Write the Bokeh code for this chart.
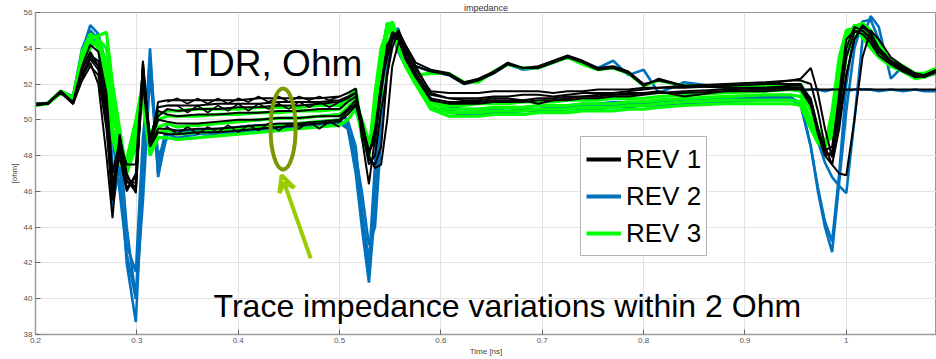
from bokeh.plotting import figure
from bokeh.models import Range1d, FixedTicker, Legend, LegendItem, Label, Arrow, VeeHead
from bokeh.embed import file_html
from bokeh.resources import INLINE

# ---------------- data ----------------
T = [0.200, 0.212, 0.225, 0.237, 0.246, 0.254, 0.262, 0.270, 0.276, 0.283, 0.290, 0.299, 0.306, 0.313, 0.321, 0.330,
     0.34, 0.36, 0.38, 0.40, 0.42, 0.44, 0.46, 0.48, 0.50,
     0.508, 0.516, 0.522, 0.529, 0.535, 0.541, 0.547, 0.552, 0.558, 0.565, 0.575, 0.590,
     0.608, 0.623, 0.637, 0.652, 0.666, 0.681, 0.696, 0.711, 0.725, 0.740, 0.755, 0.770, 0.785, 0.800, 0.815, 0.840, 0.880, 0.920,
     0.945, 0.955, 0.965, 0.972, 0.979, 0.986, 0.993, 1.000, 1.008, 1.016, 1.024, 1.032, 1.044, 1.056, 1.068, 1.077, 1.090]

# REV 2 (blue)
REV2_1 = [50.85, 50.95, 51.6, 51.3, 53.8, 55.3, 54.8, 51.5, 45.2, 47.5, 42.0, 38.7, 47.0, 54.0, 46.8, 49.5,
          49.3, 49.4, 49.5, 49.6, 49.7, 49.7, 49.8, 49.9, 50.0,
          49.6, 47.0, 44.0, 40.9, 45.0, 51.0, 55.3, 55.0, 55.1, 53.5, 52.3, 50.6,
          50.5, 50.4, 50.4, 50.5, 50.5, 50.6, 50.6, 50.7, 50.7, 50.8, 50.8, 50.8, 50.9, 50.9, 51.0, 51.0, 51.1, 51.2,
          51.2, 51.0, 48.5, 46.0, 44.0, 42.6, 46.5, 50.5, 54.0, 55.5, 55.6, 54.5, 53.3, 52.9, 52.4, 52.5, 52.8]
REV2_2 = [50.85, 50.9, 51.5, 51.2, 53.5, 55.0, 54.0, 50.5, 46.0, 48.8, 44.0, 40.0, 48.0, 53.5, 47.5, 49.8,
          49.6, 49.7, 49.8, 49.9, 50.0, 50.1, 50.1, 50.2, 50.3,
          50.0, 48.5, 45.0, 42.0, 47.5, 53.5, 55.4, 54.8, 54.5, 53.8, 53.0, 52.7,
          52.5, 52.0, 52.2, 52.6, 53.1, 52.8, 52.9, 53.2, 53.5, 53.2, 52.9, 53.3, 52.5, 52.8, 51.5, 52.1, 51.8, 51.8,
          51.7, 51.6, 51.7, 51.7, 51.6, 51.7, 51.7, 51.6, 51.7, 51.7, 51.7, 51.6, 51.7, 51.6, 51.7, 51.6, 51.6]
REV2_3 = [50.8, 50.9, 51.6, 51.3, 54.0, 55.0, 54.5, 52.5, 47.5, 46.5, 43.0, 41.5, 49.0, 53.0, 47.0, 49.2,
          49.0, 49.2, 49.3, 49.4, 49.5, 49.6, 49.7, 49.8, 49.8,
          49.5, 47.5, 44.5, 41.5, 46.0, 52.0, 55.0, 54.8, 53.8, 53.0, 52.2, 51.0,
          50.7, 50.6, 50.6, 50.6, 50.7, 50.7, 50.8, 50.8, 50.8, 50.9, 50.9, 51.0, 51.0, 51.0, 51.1, 51.1, 51.2, 51.3,
          51.3, 50.8, 48.5, 46.2, 44.3, 43.2, 47.0, 52.0, 55.0, 55.3, 55.0, 54.0, 53.2, 52.8, 52.4, 52.5, 52.8]
REV2_4 = [50.9, 50.9, 51.5, 51.1, 53.0, 54.5, 54.8, 53.0, 49.0, 46.0, 42.5, 40.0, 45.5, 52.5, 48.0, 49.0,
          48.9, 49.0, 49.2, 49.3, 49.4, 49.5, 49.6, 49.7, 49.8,
          49.8, 48.0, 46.0, 43.0, 44.0, 49.0, 53.0, 55.2, 54.8, 53.5, 52.5, 51.2,
          50.4, 50.3, 50.3, 50.4, 50.4, 50.5, 50.5, 50.5, 50.6, 50.6, 50.6, 50.7, 50.7, 50.8, 50.8, 50.9, 51.0, 51.1,
          51.1, 50.9, 50.0, 48.8, 47.6, 46.8, 46.3, 45.9, 50.0, 54.5, 55.8, 55.2, 52.3, 53.0, 52.6, 52.4, 52.6]

# REV 3 (green)
REV3_1 = [50.85, 50.9, 51.6, 51.2, 53.5, 54.5, 54.7, 54.9, 52.0, 49.5, 47.0, 48.5, 51.8, 48.6, 50.3, 50.5,
          50.5, 50.6, 50.6, 50.6, 50.7, 50.7, 50.7, 50.8, 50.8,
          51.2, 51.75, 49.5, 48.2, 51.5, 54.0, 55.0, 55.5, 54.5, 53.5, 52.5, 52.6,
          52.6, 52.1, 52.1, 52.7, 53.1, 52.9, 52.9, 53.2, 53.5, 53.1, 52.8, 52.9, 52.6, 51.9, 52.2, 51.9, 51.9, 51.9,
          51.9, 52.0, 51.0, 49.5, 48.8, 49.5, 52.0, 54.0, 55.2, 55.4, 55.0, 54.2, 53.4, 53.0, 52.6, 52.6, 52.9]
REV3_2 = [50.8, 50.9, 51.6, 51.2, 53.8, 54.8, 54.5, 53.0, 50.5, 48.5, 47.5, 49.5, 52.3, 48.8, 50.0, 50.2,
          50.2, 50.2, 50.3, 50.3, 50.4, 50.4, 50.5, 50.5, 50.6,
          51.0, 51.5, 49.0, 48.0, 50.5, 53.5, 55.3, 55.0, 54.0, 53.0, 52.0, 51.0,
          50.8, 50.8, 50.9, 50.9, 50.9, 51.0, 51.0, 51.0, 51.1, 51.1, 51.1, 51.2, 51.2, 51.2, 51.3, 51.4, 51.5, 51.6,
          51.7, 51.6, 50.5, 49.5, 48.7, 49.0, 51.0, 53.5, 55.0, 55.3, 54.8, 54.0, 53.3, 52.9, 52.5, 52.5, 52.8]
REV3_3 = [50.85, 50.9, 51.5, 51.2, 53.2, 54.3, 54.2, 52.5, 49.5, 48.0, 47.8, 50.0, 52.0, 49.0, 49.6, 49.8,
          49.6, 49.7, 49.8, 49.9, 50.0, 50.1, 50.1, 50.2, 50.3,
          50.7, 51.2, 49.5, 48.5, 49.5, 52.5, 54.8, 55.2, 54.3, 53.2, 52.3, 51.0,
          50.6, 50.6, 50.6, 50.7, 50.7, 50.7, 50.8, 50.8, 50.8, 50.9, 50.9, 50.9, 51.0, 51.0, 51.1, 51.2, 51.3, 51.4,
          51.4, 51.3, 50.0, 49.0, 48.5, 49.5, 52.5, 54.5, 55.3, 55.0, 54.5, 53.8, 53.2, 52.9, 52.5, 52.5, 52.8]
REV3_4 = [50.9, 50.9, 51.5, 51.1, 53.0, 54.0, 54.5, 54.0, 51.0, 49.0, 47.2, 49.0, 51.5, 48.4, 49.3, 49.4,
          49.2, 49.3, 49.4, 49.5, 49.6, 49.7, 49.8, 49.9, 50.0,
          50.5, 51.0, 50.0, 48.8, 49.0, 51.5, 54.0, 55.0, 54.6, 53.3, 52.2, 50.8,
          50.4, 50.4, 50.4, 50.5, 50.5, 50.5, 50.6, 50.6, 50.6, 50.7, 50.7, 50.7, 50.8, 50.8, 50.9, 51.0, 51.1, 51.1,
          51.1, 51.0, 49.8, 48.9, 48.6, 50.0, 53.0, 54.8, 55.0, 54.7, 54.2, 53.6, 53.1, 52.8, 52.4, 52.4, 52.7]
REV3_5 = [50.85, 50.9, 51.6, 51.2, 53.6, 54.6, 54.0, 52.0, 49.0, 47.5, 47.3, 49.8, 51.0, 48.0, 49.0, 49.0,
          48.9, 49.0, 49.1, 49.2, 49.3, 49.4, 49.5, 49.6, 49.7,
          50.0, 50.6, 49.3, 48.3, 50.0, 53.0, 55.4, 55.3, 54.2, 53.0, 52.0, 50.6,
          50.2, 50.2, 50.2, 50.3, 50.3, 50.3, 50.4, 50.4, 50.4, 50.5, 50.5, 50.5, 50.6, 50.6, 50.7, 50.8, 50.9, 50.9,
          50.9, 50.8, 49.5, 48.7, 48.5, 50.5, 53.5, 55.0, 55.1, 54.6, 54.0, 53.5, 53.0, 52.7, 52.3, 52.4, 52.7]

# REV 1 (black)
REV1_1 = [50.85, 50.9, 51.6, 50.9, 52.5, 53.2, 52.0, 48.0, 44.5, 49.2, 47.0, 45.9, 53.3, 48.5, 51.0, 51.1,
          51.1, 51.1, 51.1, 51.1, 51.2, 51.2, 51.2, 51.2, 51.3,
          51.5, 51.75, 49.0, 46.4, 49.0, 52.0, 53.5, 54.5, 55.0, 54.0, 53.0, 52.7,
          52.5, 52.0, 52.2, 52.6, 53.1, 52.9, 52.9, 53.2, 53.5, 53.2, 52.8, 52.9, 52.6, 51.9, 52.3, 51.9, 51.8, 51.8,
          51.8, 51.7, 51.7, 51.7, 51.7, 51.7, 51.7, 51.7, 51.7, 51.7, 51.7, 51.7, 51.7, 51.7, 51.7, 51.7, 51.7]
REV1_2 = [50.85, 50.9, 51.6, 50.9, 52.8, 53.8, 53.0, 50.0, 45.5, 48.5, 46.5, 46.5, 52.8, 48.8, 50.7, 50.8,
          50.8, 50.8, 50.9, 50.9, 50.9, 51.0, 51.0, 51.0, 51.1,
          51.3, 51.5, 49.5, 47.5, 48.0, 50.5, 52.5, 54.0, 55.0, 54.2, 53.2, 52.8,
          52.6, 52.1, 52.3, 52.7, 53.2, 52.9, 53.0, 53.3, 53.6, 53.3, 52.9, 53.0, 52.7, 52.0, 52.2, 51.9, 51.9, 52.0,
          52.2, 52.3, 52.9, 51.5, 49.5, 47.9, 50.0, 52.5, 54.5, 55.3, 54.9, 54.0, 53.3, 52.9, 52.5, 52.5, 52.8]
REV1_3 = [50.9, 50.95, 51.5, 50.9, 52.3, 53.5, 53.0, 51.0, 46.0, 48.0, 46.0, 47.0, 52.5, 49.0, 50.5, 50.3,
          50.2, 50.3, 50.3, 50.4, 50.4, 50.5, 50.5, 50.6, 50.6,
          51.0, 51.3, 50.0, 48.0, 47.3, 47.5, 50.0, 53.0, 54.3, 54.0, 53.0, 51.5,
          51.2, 51.2, 51.2, 51.3, 51.3, 51.4, 51.4, 51.3, 51.4, 51.5, 51.5, 51.5, 51.6, 51.7, 51.8, 51.9, 52.0, 52.1,
          52.2, 52.2, 52.0, 50.5, 48.5, 47.5, 47.0, 46.9, 50.0, 53.5, 55.0, 54.5, 53.5, 53.0, 52.6, 52.5, 52.8]
REV1_4 = [50.85, 50.9, 51.6, 51.0, 53.0, 54.2, 53.8, 51.5, 47.0, 48.8, 47.5, 47.5, 53.0, 48.7, 50.0, 49.9,
          49.8, 49.8, 49.9, 50.0, 50.0, 50.1, 50.1, 50.2, 50.2,
          50.6, 51.1, 49.5, 48.0, 49.5, 52.0, 54.0, 54.8, 54.6, 53.6, 52.6, 51.4,
          51.2, 51.1, 51.1, 51.2, 51.2, 51.1, 50.9, 51.1, 51.2, 51.3, 51.3, 51.4, 51.4, 51.5, 51.5, 51.6, 51.7, 51.8,
          51.9, 51.9, 51.2, 49.5, 48.2, 48.0, 50.5, 53.5, 54.9, 55.0, 54.6, 53.8, 53.2, 52.8, 52.4, 52.4, 52.7]
REV1_5 = [50.85, 50.9, 51.6, 50.9, 52.2, 53.0, 52.5, 49.5, 45.5, 49.0, 46.8, 46.2, 53.2, 48.6, 49.5, 49.5,
          49.4, 49.5, 49.5, 49.6, 49.7, 49.8, 49.8, 49.9, 50.0,
          50.5, 50.9, 49.8, 48.3, 48.8, 51.5, 53.8, 54.9, 54.7, 53.5, 52.4, 51.2,
          51.0, 51.0, 51.0, 51.1, 51.1, 51.1, 51.2, 51.2, 51.3, 51.3, 51.4, 51.4, 51.5, 51.5, 51.6, 51.3, 51.6, 51.7,
          51.8, 51.8, 51.0, 49.5, 48.3, 48.5, 51.0, 54.0, 55.2, 55.0, 54.5, 53.8, 53.2, 52.8, 52.4, 52.5, 52.8]
REV1_6 = [50.9, 50.9, 51.6, 50.9, 52.6, 53.4, 52.8, 50.5, 46.5, 48.2, 46.2, 46.8, 52.0, 48.5, 49.3, 49.2,
          49.2, 49.3, 49.3, 49.4, 49.5, 49.6, 49.7, 49.8, 49.9,
          50.3, 50.8, 49.6, 48.1, 49.2, 51.8, 54.2, 54.6, 54.5, 53.4, 52.4, 51.1,
          50.9, 50.9, 50.9, 51.0, 51.0, 51.0, 51.1, 51.1, 51.1, 51.2, 51.2, 51.3, 51.3, 51.4, 51.5, 51.5, 51.6, 51.6,
          51.7, 51.7, 50.8, 49.2, 48.0, 48.2, 51.5, 54.5, 55.0, 54.8, 54.3, 53.6, 53.1, 52.7, 52.4, 52.4, 52.7]
REV1_7 = [50.85, 50.9, 51.6, 50.9, 52.4, 53.6, 53.3, 50.8, 46.0, 48.6, 46.6, 46.0, 52.6, 48.6, 50.2, 50.6,
          50.5, 50.6, 50.6, 50.7, 50.7, 50.8, 50.8, 50.9, 51.0,
          51.2, 51.5, 49.8, 47.8, 47.5, 48.5, 52.5, 54.5, 54.8, 53.8, 52.8, 51.6,
          51.5, 51.5, 51.5, 51.6, 51.6, 51.6, 51.6, 51.5, 51.6, 51.6, 51.7, 51.7, 51.7, 51.8, 51.8, 51.8, 51.9, 52.0,
          52.0, 52.0, 51.0, 49.5, 48.0, 47.5, 49.5, 52.5, 54.5, 55.2, 54.8, 54.0, 53.3, 52.9, 52.5, 52.5, 52.8]

# REV 1 zig-zag traces on the flat section
ZIG_T = [0.33, 0.34, 0.35, 0.36, 0.37, 0.38, 0.39, 0.40, 0.41, 0.42, 0.43, 0.44, 0.45, 0.46, 0.47, 0.48, 0.49, 0.50]
ZIG_1 = [51.0, 51.2, 50.9, 51.2, 50.9, 51.2, 50.9, 51.2, 51.0, 51.3, 51.0, 51.3, 51.0, 51.3, 51.1, 51.3, 51.1, 51.3]
ZIG_2 = [50.8, 50.8, 50.4, 50.8, 50.4, 50.8, 50.5, 50.9, 50.5, 50.9, 50.6, 50.9, 50.6, 51.0, 50.7, 51.0, 50.7, 51.0]
ZIG_3 = [49.6, 49.2, 49.6, 49.2, 49.6, 49.3, 49.7, 49.3, 49.7, 49.4, 49.8, 49.4, 49.8, 49.5, 49.9, 49.5, 49.9, 49.6]

X_TICKS = [0.2, 0.3, 0.4, 0.5, 0.6, 0.7, 0.8, 0.9, 1.0]
Y_TICKS = [38, 40, 42, 44, 46, 48, 50, 52, 54, 56]
LEGEND_LABELS = ["REV 1", "REV 2", "REV 3"]

BLACK = "#000000"
BLUE = "#0072BD"
GREEN = "#00FF00"
NAN = float("nan")

# ---------------- figure ----------------
p = figure(width=936, height=359, output_backend="svg", toolbar_location=None,
           x_range=Range1d(0.2, 1.089), y_range=Range1d(38, 56),
           min_border_left=35, min_border_right=0, min_border_top=12, min_border_bottom=25)

p.title.text = "impedance"
p.title.align = "center"
p.title.text_font = "Liberation Sans"
p.title.text_font_size = "9px"
p.title.text_font_style = "normal"
p.title.text_color = "#333333"
p.title.standoff = 0

p.outline_line_color = "#999999"
p.background_fill_color = "white"
p.border_fill_color = "white"

for ax in (p.xaxis[0], p.yaxis[0]):
    ax.axis_line_color = "#9a9a9a"
    ax.axis_line_width = 1.5
    ax.major_tick_in = 5
    ax.major_tick_out = 0
    ax.minor_tick_in = 0
    ax.minor_tick_out = 0
    ax.major_tick_line_color = "#666666"
    ax.major_label_text_font = "Liberation Sans"
    ax.major_label_text_font_size = "8px"
    ax.major_label_text_color = "#555555"
    ax.axis_label_text_font = "Liberation Sans"
    ax.axis_label_text_font_size = "8px"
    ax.axis_label_text_font_style = "normal"
    ax.axis_label_text_color = "#444444"

p.xaxis.ticker = FixedTicker(ticks=X_TICKS)
p.yaxis.ticker = FixedTicker(ticks=Y_TICKS)
p.xaxis.major_label_overrides = {1.0: "1", 1: "1"}
p.xaxis.axis_label = "Time [ns]"
p.yaxis.axis_label = "[ohm]"
p.xaxis.major_label_standoff = 3
p.yaxis.major_label_standoff = 3
p.xaxis.axis_label_standoff = 1
p.yaxis.axis_label_standoff = 2

p.xgrid.grid_line_color = "#e3e3e3"
p.ygrid.grid_line_color = "#e3e3e3"

for tr in (REV2_1, REV2_2, REV2_3, REV2_4):
    p.line(T, tr, line_color=BLUE, line_width=2.6)
for tr in (REV3_1, REV3_2, REV3_3, REV3_4, REV3_5):
    p.line(T, tr, line_color=GREEN, line_width=3.2)
for tr in (REV1_1, REV1_2, REV1_3, REV1_4, REV1_5, REV1_6, REV1_7):
    p.line(T, tr, line_color=BLACK, line_width=2.0)
for tr in (ZIG_1, ZIG_2, ZIG_3):
    p.line(ZIG_T, tr, line_color=BLACK, line_width=1.6)

# annotations
p.ellipse(x=[0.4443], y=[49.49], width=0.0247, height=4.53,
          fill_alpha=0, line_color="#7A9A01", line_width=4)
p.add_layout(Arrow(end=VeeHead(size=16, line_color="#99CC00", line_width=4, fill_alpha=0),
                   x_start=0.4715, y_start=42.26, x_end=0.4428, y_end=46.9,
                   line_color="#99CC00", line_width=4))
p.add_layout(Label(x=0.348, y=53.15, text="TDR, Ohm", text_font="Liberation Sans",
                   text_font_size="37px", text_color="black", text_baseline="alphabetic"))
p.add_layout(Label(x=0.3757, y=39.58, text="Trace impedance variations within 2 Ohm",
                   text_font="Liberation Sans", text_font_size="32px", text_color="black",
                   text_baseline="alphabetic"))

# legend (proxy renderers with thicker lines)
d1 = p.line([NAN, NAN], [NAN, NAN], line_color=BLACK, line_width=4)
d2 = p.line([NAN, NAN], [NAN, NAN], line_color=BLUE, line_width=4)
d3 = p.line([NAN, NAN], [NAN, NAN], line_color=GREEN, line_width=4)
legend = Legend(items=[LegendItem(label=LEGEND_LABELS[0], renderers=[d1]),
                       LegendItem(label=LEGEND_LABELS[1], renderers=[d2]),
                       LegendItem(label=LEGEND_LABELS[2], renderers=[d3])],
                location=(545, 78), label_text_font="Liberation Sans", label_text_font_size="26px",
                label_text_color="black",
                glyph_width=35, glyph_height=34, label_height=34, label_standoff=5,
                spacing=3, padding=5, margin=0,
                border_line_color="#666666", border_line_width=1.5,
                background_fill_color="white", background_fill_alpha=1)
p.add_layout(legend)

open("out.html", "w").write(file_html(p, INLINE))
